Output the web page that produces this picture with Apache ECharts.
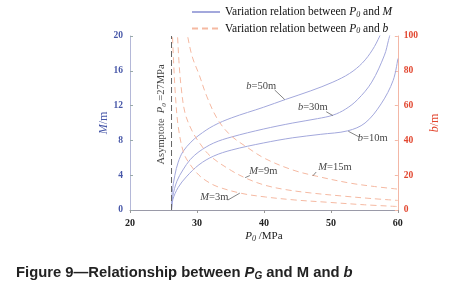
<!DOCTYPE html>
<html><head><meta charset="utf-8">
<script src="https://cdn.jsdelivr.net/npm/echarts@6/dist/echarts.min.js"></script>
<style>html,body{margin:0;padding:0;background:#fff}#c{width:449px;height:305px}</style>
</head><body><div id="c"></div>
<script>
// ---- data ----
var asymptoteP = 26.2;
// M vs P0 (left axis), for b = 10, 30, 50 m
var mB10 = [[26.2,0],[26.4,1.2],[27.2,2.6],[28.4,3.8],[30.3,5.2],[32.5,6.2],[35.2,6.9],[39.9,7.7],[44.3,8.3],[48.5,8.7],[52.5,9.1],[55.1,10.0],[57.5,12.2],[59.3,14.9],[60,17.4]];
var mB30 = [[26.2,0],[26.4,1.6],[27.0,3.3],[27.9,4.6],[29.0,5.8],[30.3,6.7],[32.5,7.7],[35.2,8.4],[39.9,9.3],[44.3,10.0],[48.0,10.5],[50.3,10.9],[52.2,11.6],[54.0,12.7],[56.1,14.7],[58.0,17.8],[58.6,19.5],[59.1,21]];
var mB50 = [[26.2,0],[26.3,2.0],[26.7,4.0],[27.2,5.5],[27.9,6.7],[29.1,7.8],[30.3,8.6],[32.5,9.7],[35.2,10.6],[39.9,11.8],[43.2,12.7],[47.0,13.7],[50.3,14.7],[52.8,15.7],[54.7,16.9],[56.2,18.4],[57.3,20],[57.8,21]];
// b vs P0 (right axis), for M = 3, 9, 15 m
var bM3  = [[26.3,105],[26.35,100],[26.5,86],[26.8,65],[27.2,48],[28.0,33],[29.0,26],[30.3,20],[31.5,16.5],[33.0,13.5],[36.6,9.6],[40.2,7.5],[44.5,5.8],[49.3,4.5],[55.0,3.0],[60,2.0]];
var bM9  = [[27.0,105],[27.1,100],[27.3,86],[27.6,72],[28.2,56],[29.2,46],[30.3,39],[32.0,31],[35.2,22.5],[37.6,17.8],[40.2,14.2],[43.1,11.8],[47.0,9.8],[51.8,8.0],[56.0,6.6],[60,5.5]];
var bM15 = [[28.4,105],[28.6,100],[29.3,88],[30.3,78],[31.5,65],[33.1,52],[35.0,43],[37.5,36],[40.2,29.5],[44.3,23],[47.9,19.4],[52.8,15.5],[56.5,13.5],[60,12]];
// tick settings
var xTicks = {min:20, max:60, step:10};
var mTicks = {min:0, max:20, step:4};
var bTicks = {min:0, max:100, step:20};
// annotations: [italic, rest, labelP, labelV, leaderFromP, leaderFromV, leaderToP, leaderToV, axisIndex]
var notes = [
  ['b','=50m', 39.6,14.25, 41.6,13.8, 43.1,12.7, 0],
  ['b','=30m', 47.3,11.84, 49.3,11.3, 50.3,10.85, 0],
  ['b','=10m', 56.25,8.28, 54.2,8.4, 52.6,9.05, 0],
  ['M','=15m', 50.6,24.7, 47.8,21.8, 47.3,19.6, 1],
  ['M','=9m', 39.9,22.1, 37.9,19.8, 37.2,18.6, 1],
  ['M','=3m', 32.6,7.6, 34.6,5.7, 36.4,9.7, 1]
];

var blue = '#a3a8dc', red = '#f5b9a2';
var serif = 'Liberation Serif';
var legM = 'Variation relation between P0 and M';
var legB = 'Variation relation between P0 and b';

var chart = echarts.init(document.getElementById('c'), null, {renderer:'canvas'});
function lineSeries(name, data, yi, color, dashed){
  return {name:name, type:'line', data:data, yAxisIndex:yi, showSymbol:false, symbol:'none', smooth:0.35,
    lineStyle:{color:color, width:1, type: dashed?[6,4]:'solid'}, itemStyle:{color:color}, clip:true, z:3, silent:true};
}
var series = [
  lineSeries(legM, mB10, 0, blue, false),
  lineSeries(legM, mB30, 0, blue, false),
  lineSeries(legM, mB50, 0, blue, false),
  lineSeries(legB, bM3, 1, red, true),
  lineSeries(legB, bM9, 1, red, true),
  lineSeries(legB, bM15, 1, red, true),
  {name:'asym', type:'line', yAxisIndex:0, data:[[asymptoteP,mTicks.min],[asymptoteP,mTicks.max]], showSymbol:false, symbol:'none',
   lineStyle:{color:'#666', width:1, type:[6,3]}, z:4, silent:true},
  {name:'asymLabel', type:'scatter', yAxisIndex:0, data:[[24.6,10.98]], symbolSize:0, silent:true,
   label:{show:true, position:'inside', rotate:90, color:'#111', fontFamily:serif, fontSize:10.5,
     formatter:'Asymptote  {i|P}{s|0} =27MPa',
     rich:{i:{fontStyle:'italic', fontFamily:serif, fontSize:10.5, color:'#111'}, s:{fontStyle:'italic', fontFamily:serif, fontSize:7, color:'#111', padding:[6,0,0,0]}}}}
];
notes.forEach(function(n){
  series.push({type:'line', yAxisIndex:n[8], data:[[n[4],n[5]],[n[6],n[7]]], showSymbol:false, symbol:'none', silent:true,
    lineStyle:{color:'#666', width:0.8}, z:5});
  series.push({type:'scatter', yAxisIndex:n[8], data:[[n[2],n[3]]], symbolSize:0, silent:true, z:6,
    label:{show:true, position:'inside', formatter:'{i|'+n[0]+'}{t|'+n[1]+'}',
      rich:{i:{fontStyle:'italic', fontFamily:serif, fontSize:10.5, color:'#111'}, t:{fontFamily:serif, fontSize:10.5, color:'#111'}}}});
});

var option = {
  animation:false,
  backgroundColor:'#fff',
  grid:{left:130, right:42, top:36, bottom:95, containLabel:false},
  legend:{orient:'vertical', left:186, top:1, itemWidth:28, itemHeight:10, itemGap:4,
    itemStyle:{opacity:0},
    data:[{name:legM},{name:legB}],
    textStyle:{fontFamily:serif, fontSize:11.5, color:'#111',
      rich:{t:{fontFamily:serif, fontSize:11.5, color:'#111'}, i:{fontFamily:serif, fontStyle:'italic', fontSize:11.5, color:'#111'}, s:{fontFamily:serif, fontStyle:'italic', fontSize:8, color:'#111', padding:[5,0,0,0]}}},
    formatter:function(nm){ return nm===legM ? '{t|Variation relation between }{i|P}{s|0}{t| and }{i|M}' : '{t|Variation relation between }{i|P}{s|0}{t| and }{i|b}'; }
  },
  xAxis:{type:'value', min:xTicks.min, max:xTicks.max, interval:xTicks.step,
    axisLine:{show:true, lineStyle:{color:'#9a9aa8', width:1}}, axisTick:{show:true, inside:false, length:3, lineStyle:{color:'#999'}},
    axisLabel:{color:'#222', fontFamily:serif, fontWeight:'bold', fontSize:10, margin:8}, splitLine:{show:false},
    name:'{i|P}{s|0} /MPa', nameLocation:'middle', nameGap:20, nameMoveOverlap:false,
    nameTextStyle:{fontFamily:serif, fontSize:11, color:'#222', rich:{i:{fontFamily:serif, fontStyle:'italic', fontSize:11, color:'#222'}, s:{fontFamily:serif, fontStyle:'italic', fontSize:8, color:'#222', padding:[5,0,0,0]}}}
  },
  yAxis:[
    {type:'value', position:'left', min:mTicks.min, max:mTicks.max, interval:mTicks.step,
     axisLine:{show:true, lineStyle:{color:'#b4b8d8'}}, axisTick:{show:true, inside:true, length:3, lineStyle:{color:'#9aa'}},
     axisLabel:{color:'#4757a8', fontFamily:serif, fontWeight:'bold', fontSize:9.5, margin:7}, splitLine:{show:false},
     name:'{i|M}/m', nameLocation:'middle', nameGap:20, nameRotate:90, nameMoveOverlap:false,
     nameTextStyle:{fontFamily:serif, fontSize:12, color:'#4757a8', rich:{i:{fontFamily:serif, fontStyle:'italic', fontSize:12, color:'#4757a8'}}}},
    {type:'value', position:'right', min:bTicks.min, max:bTicks.max, interval:bTicks.step,
     axisLine:{show:true, lineStyle:{color:'#f3b7a6'}}, axisTick:{show:true, inside:true, length:3, lineStyle:{color:'#f3b7a6'}},
     axisLabel:{color:'#e2452e', fontFamily:serif, fontWeight:'bold', fontSize:9.5, margin:6}, splitLine:{show:false},
     name:'{i|b}/m', nameLocation:'middle', nameGap:22, nameRotate:90,
     nameTextStyle:{fontFamily:serif, fontSize:12, color:'#e2452e', rich:{i:{fontFamily:serif, fontStyle:'italic', fontSize:12, color:'#e2452e'}}}}
  ],
  graphic:[{type:'text', left:16, top:265, silent:true,
    style:{text:'{t|Figure 9\u2014Relationship between }{i|P}{s|G}{t| and M and }{i|b}', fill:'#222',
      rich:{t:{fontFamily:'Liberation Sans', fontWeight:'bold', fontSize:14.8, fill:'#222'},
            i:{fontFamily:'Liberation Sans', fontWeight:'bold', fontStyle:'italic', fontSize:14.8, fill:'#222'},
            s:{fontFamily:'Liberation Sans', fontWeight:'bold', fontStyle:'italic', fontSize:10, fill:'#222', padding:[8,0,0,0]}}}}],
  series:series
};
chart.setOption(option);
</script></body></html>
